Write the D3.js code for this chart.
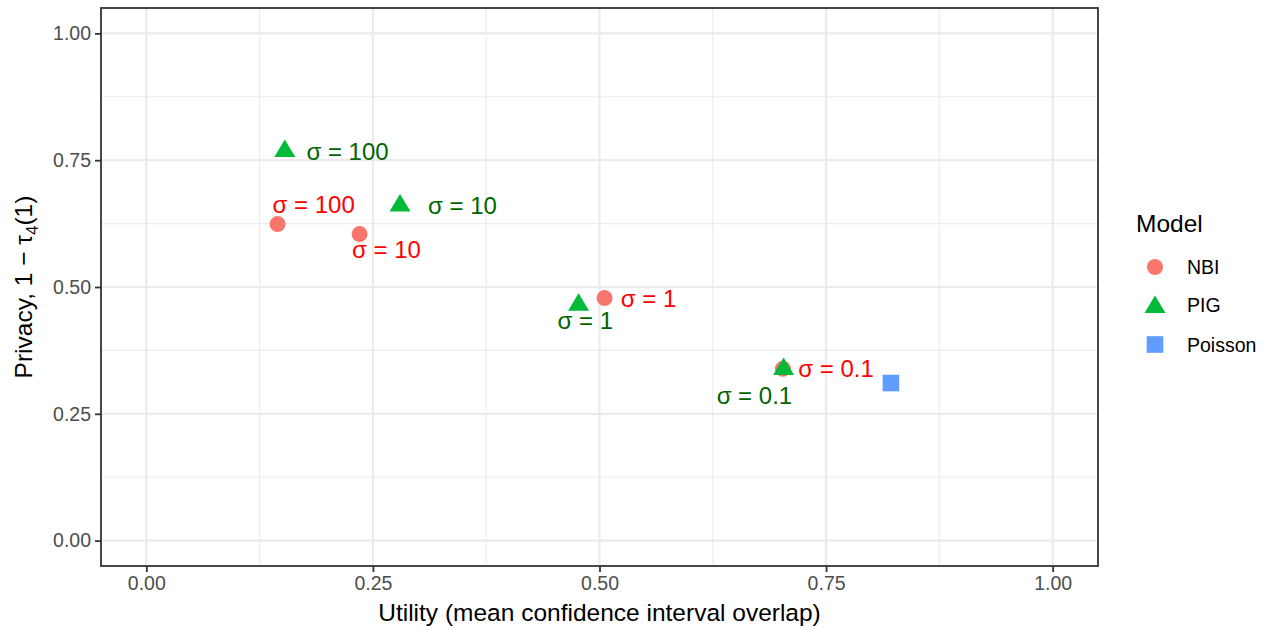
<!DOCTYPE html>
<html>
<head>
<meta charset="utf-8">
<script src="https://cdn.jsdelivr.net/npm/d3@7"></script>
<style>
  body { margin: 0; background: #fff; }
  text { font-family: "Liberation Sans", Arial, sans-serif; }
</style>
</head>
<body>
<div class="chart"></div>
<script>
// values
var models = ["NBI", "PIG", "Poisson"];
var sigmaLabels = ["σ = 100", "σ = 10", "σ = 1", "σ = 0.1"];

var nbiUtility = [0.1448, 0.2353, 0.5056, 0.7024];
var nbiPrivacy = [0.6240, 0.6043, 0.4782, 0.3389];
var pigUtility = [0.1528, 0.2799, 0.4769, 0.7031];
var pigPrivacy = [0.7730, 0.6656, 0.4700, 0.3434];
var poissonUtility = [0.8215];
var poissonPrivacy = [0.3107];

// where the repelled labels ended up (data units)
var nbiLabelX = [0.1846, 0.2650, 0.5541, 0.7610];
var nbiLabelY = [0.6629, 0.5740, 0.4778, 0.3389];
var pigLabelX = [0.2220, 0.3488, 0.4843, 0.6709];
var pigLabelY = [0.7677, 0.6613, 0.4343, 0.2869];

var majorTicks = [0, 0.25, 0.5, 0.75, 1];
var minorTicks = [0.125, 0.375, 0.625, 0.875];

var colors = {NBI: "#F8766D", PIG: "#00BA38", Poisson: "#619CFF"};
var labelColors = {NBI: "#FF0000", PIG: "#006400"};

var width = 1270, height = 630;
var panel = {left: 101, right: 1098, top: 8, bottom: 566};

var svg = d3.select(".chart").append("svg")
    .attr("width", width)
    .attr("height", height);

var x = d3.scaleLinear().domain([-0.05, 1.05]).range([panel.left, panel.right]);
var y = d3.scaleLinear().domain([-0.05, 1.05]).range([panel.bottom, panel.top]);

// grid
var grid = svg.append("g");
grid.selectAll(".minx").data(minorTicks).enter().append("line")
    .attr("x1", d => x(d)).attr("x2", d => x(d))
    .attr("y1", panel.top).attr("y2", panel.bottom)
    .attr("stroke", "#EBEBEB").attr("stroke-width", 1.1);
grid.selectAll(".miny").data(minorTicks).enter().append("line")
    .attr("y1", d => y(d)).attr("y2", d => y(d))
    .attr("x1", panel.left).attr("x2", panel.right)
    .attr("stroke", "#EBEBEB").attr("stroke-width", 1.1);
grid.selectAll(".majx").data(majorTicks).enter().append("line")
    .attr("x1", d => x(d)).attr("x2", d => x(d))
    .attr("y1", panel.top).attr("y2", panel.bottom)
    .attr("stroke", "#EBEBEB").attr("stroke-width", 2.2);
grid.selectAll(".majy").data(majorTicks).enter().append("line")
    .attr("y1", d => y(d)).attr("y2", d => y(d))
    .attr("x1", panel.left).attr("x2", panel.right)
    .attr("stroke", "#EBEBEB").attr("stroke-width", 2.2);

// points
var points = [];
nbiUtility.forEach(function(u, i) { points.push({model: "NBI", u: u, p: nbiPrivacy[i]}); });
pigUtility.forEach(function(u, i) { points.push({model: "PIG", u: u, p: pigPrivacy[i]}); });
poissonUtility.forEach(function(u, i) { points.push({model: "Poisson", u: u, p: poissonPrivacy[i]}); });

function drawShape(g, model, cx, cy) {
  if (model == "NBI") {
    g.append("circle").attr("cx", cx).attr("cy", cy).attr("r", 8)
      .attr("fill", colors.NBI);
  } else if (model == "PIG") {
    g.append("path")
      .attr("d", "M" + cx + "," + (cy - 9) + "L" + (cx + 10.5) + "," + (cy + 8.5) + "L" + (cx - 10.5) + "," + (cy + 8.5) + "Z")
      .attr("fill", colors.PIG);
  } else {
    g.append("rect").attr("x", cx - 8.3).attr("y", cy - 8.3)
      .attr("width", 16.6).attr("height", 16.6)
      .attr("fill", colors.Poisson);
  }
}

var pts = svg.append("g");
points.forEach(function(d) { drawShape(pts, d.model, x(d.u), y(d.p)); });

// labels
var labels = svg.append("g").attr("font-size", 24).attr("text-anchor", "middle");
sigmaLabels.forEach(function(s, i) {
  labels.append("text").attr("x", x(nbiLabelX[i])).attr("y", y(nbiLabelY[i]))
    .attr("dy", "0.36em").attr("fill", labelColors.NBI).text(s);
  labels.append("text").attr("x", x(pigLabelX[i])).attr("y", y(pigLabelY[i]))
    .attr("dy", "0.36em").attr("fill", labelColors.PIG).text(s);
});

// panel border
svg.append("rect")
    .attr("x", panel.left).attr("y", panel.top)
    .attr("width", panel.right - panel.left).attr("height", panel.bottom - panel.top)
    .attr("fill", "none").attr("stroke", "#333333").attr("stroke-width", 1.8);

// axes
var fmt = d3.format(".2f");
var xAxis = svg.append("g").attr("transform", "translate(0," + panel.bottom + ")")
    .call(d3.axisBottom(x).tickValues(majorTicks).tickFormat(fmt).tickSize(6).tickPadding(4));
var yAxis = svg.append("g").attr("transform", "translate(" + panel.left + ",0)")
    .call(d3.axisLeft(y).tickValues(majorTicks).tickFormat(fmt).tickSize(6).tickPadding(4));
[xAxis, yAxis].forEach(function(a) {
  a.select(".domain").remove();
  a.selectAll(".tick line").attr("stroke", "#333333").attr("stroke-width", 1.8);
  a.selectAll(".tick text").attr("fill", "#4D4D4D")
    .style("font-size", "19.5px").style("font-family", "Liberation Sans, Arial, sans-serif");
});

svg.append("text")
    .attr("x", (panel.left + panel.right) / 2).attr("y", 621)
    .attr("text-anchor", "middle").attr("font-size", 24.5).attr("fill", "#000")
    .text("Utility (mean confidence interval overlap)");

var ylab = svg.append("text")
    .attr("transform", "translate(32," + ((panel.top + panel.bottom) / 2) + ") rotate(-90)")
    .attr("text-anchor", "middle").attr("font-size", 24.5).attr("fill", "#000");
ylab.append("tspan").text("Privacy, 1 − τ");
ylab.append("tspan").attr("font-size", 17).attr("dy", 6).text("4");
ylab.append("tspan").attr("dy", -6).text("(1)");

// legend
var legend = svg.append("g");
legend.append("text").attr("x", 1136).attr("y", 232)
    .attr("font-size", 24.5).attr("fill", "#000").text("Model");
var legendY = [267, 304.5, 344.5];
models.forEach(function(m, i) {
  drawShape(legend, m, 1155, legendY[i]);
  legend.append("text").attr("x", 1187).attr("y", legendY[i]).attr("dy", "0.36em")
    .attr("font-size", 19.5).attr("fill", "#000").text(m);
});
</script>
</body>
</html>
